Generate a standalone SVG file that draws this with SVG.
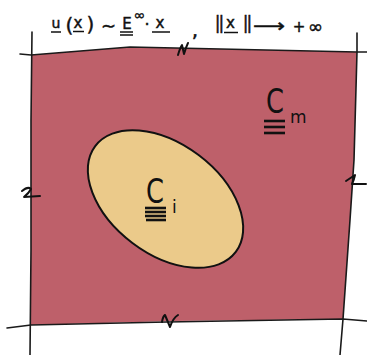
<svg xmlns="http://www.w3.org/2000/svg" width="367" height="355" viewBox="0 0 367 355">
<style>
.ln{fill:none;stroke:#1a1a1a;stroke-width:1.6;stroke-linecap:round;stroke-linejoin:round}
.mk{fill:none;stroke:#111;stroke-width:2;stroke-linecap:round;stroke-linejoin:round}
.t{font-family:"DejaVu Sans",sans-serif;fill:#111}
.f{font-family:"DejaVu Sans",sans-serif;fill:#111;stroke:#111;stroke-width:0.45;text-anchor:middle}
.ul{stroke:#111;stroke-width:1.5}
.bar{stroke:#111;stroke-width:2.6}
</style>
<rect width="367" height="355" fill="#ffffff"/>
<g id="domain">
<polygon points="31,55 130,47 357,52 354,160 350,220 343,319 175,321 31,325" fill="#be606a"/>
</g>
<g id="connectors">
<polyline class="ln" points="20,54 31,55 130,47 357,52 367,52"/>
<polyline class="ln" points="7,328 31,325 167,322 343,319 367,321"/>
<polyline class="ln" points="32,32 31,120 31,250 30,355"/>
<polyline class="ln" points="357,33 357,52 354,160 350,220 343,319 340,355"/>
</g>
<g id="marks">
<path class="mk" d="M22,191 Q28,186 31,189 Q29,193 24,197 L40,196"/>
<path class="mk" d="M346,181 L355,175 Q354,180 352,184 Q360,184 366,184"/>
<path class="mk" d="M162,322 Q163,316 165,315 L170,327 Q173,318 178,315"/>
<path class="mk" d="M178,55 Q180,48 182,45 L184,54 Q186,47 188,43"/>
</g>
<g id="inner">
<ellipse cx="165.5" cy="199" rx="88" ry="55" transform="rotate(37 165.5 199)" fill="#ebca8a" stroke="#111" stroke-width="2"/>
</g>
<g id="label-ci">
<text class="t" x="0" y="0" font-size="33" transform="translate(146,203) scale(0.78,1)">C</text>
<text class="t" x="172" y="213" font-size="17">i</text>
<line class="bar" x1="145" y1="208" x2="166" y2="208"/>
<line class="bar" x1="145" y1="212" x2="166" y2="212"/>
<line class="bar" x1="145" y1="216" x2="166" y2="216"/>
<line class="bar" x1="146" y1="220" x2="166" y2="220"/>
</g>
<g id="label-cm">
<text class="t" x="0" y="0" font-size="33" transform="translate(266,113) scale(0.78,1)">C</text>
<text class="t" x="290" y="123" font-size="17">m</text>
<line class="bar" x1="264" y1="121" x2="285" y2="121"/>
<line class="bar" x1="264" y1="127" x2="285" y2="127"/>
<line class="bar" x1="264" y1="133" x2="285" y2="133"/>
</g>
<g id="formula">
<text class="f" x="56" y="28" font-size="14">u</text>
<line class="ul" x1="51" y1="32" x2="61" y2="32"/>
<text class="f" x="69.5" y="32" font-size="20">(</text>
<text class="f" x="78" y="28" font-size="15">x</text>
<line class="ul" x1="73" y1="31.5" x2="84" y2="31.5"/>
<text class="f" x="90.5" y="31" font-size="20">)</text>
<text class="f" x="108.5" y="32" font-size="18">∼</text>
<text class="f" x="127" y="29" font-size="15">E</text>
<line class="ul" x1="120" y1="32" x2="133" y2="32"/>
<line class="ul" x1="120" y1="35" x2="133" y2="35"/>
<text class="f" x="139.5" y="20" font-size="14">∞</text>
<text class="f" x="147" y="29.5" font-size="16">·</text>
<text class="f" x="160" y="28" font-size="15">x</text>
<line class="ul" x1="152" y1="32" x2="170" y2="32"/>
<text class="f" x="195" y="37" font-size="20" stroke-width="0.7">,</text>
<text class="f" x="218.5" y="28.5" font-size="17" letter-spacing="-2">||</text>
<text class="f" x="230.5" y="27.5" font-size="15">x</text>
<line class="ul" x1="224" y1="32.5" x2="238" y2="32.5"/>
<text class="f" x="246.5" y="28.5" font-size="17" letter-spacing="-2">||</text>
<text class="f" x="269" y="31.5" font-size="18" textLength="32" lengthAdjust="spacingAndGlyphs">⟶</text>
<text class="f" x="299" y="32" font-size="15">+</text>
<text class="f" x="315.5" y="33" font-size="18">∞</text>
</g>
</svg>
